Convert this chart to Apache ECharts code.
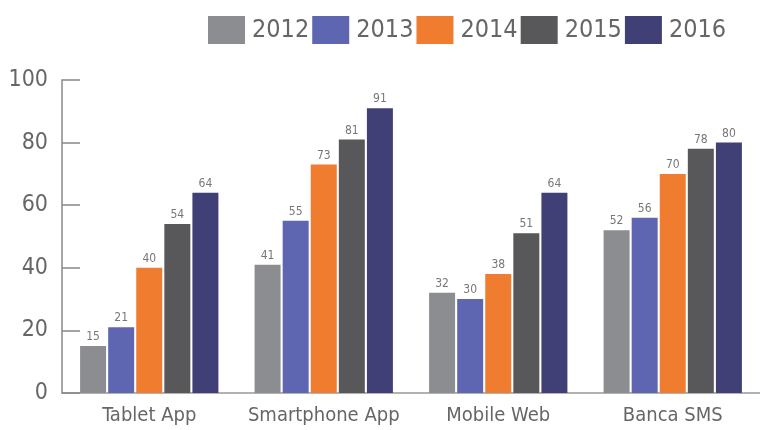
<!DOCTYPE html>
<html>
<head>
<meta charset="utf-8">
<script src="https://cdn.jsdelivr.net/npm/echarts@6/dist/echarts.min.js"></script>
<style>
  html, body { margin: 0; padding: 0; background: #fff; }
  #chart { width: 760px; height: 430px; }
</style>
</head>
<body>
<div id="chart"></div>
<script>
// Channels and yearly values
const categories = ['Tablet App', 'Smartphone App', 'Mobile Web', 'Banca SMS'];
const years = ['2012', '2013', '2014', '2015', '2016'];
const v2012 = [15, 41, 32, 52];
const v2013 = [21, 55, 30, 56];
const v2014 = [40, 73, 38, 70];
const v2015 = [54, 81, 51, 78];
const v2016 = [64, 91, 64, 80];
const yTicks = [0, 20, 40, 60, 80, 100];

const colors = ['#8c8d90', '#5f66b1', '#f07d2f', '#58585b', '#403f76'];
const seriesValues = [v2012, v2013, v2014, v2015, v2016];
const FONT = '"DejaVu Sans Condensed", "DejaVu Sans", sans-serif';

const chart = echarts.init(document.getElementById('chart'), null, { renderer: 'canvas' });

chart.setOption({
  animation: false,
  color: colors,
  textStyle: { fontFamily: FONT },
  legend: {
    top: 11,
    left: 203,
    itemWidth: 37,
    itemHeight: 28,
    itemGap: 3,
    icon: 'rect',
    textStyle: { fontFamily: FONT, fontSize: 25, color: '#666', padding: [2, 0, 0, 2] },
    data: years
  },
  grid: { left: 62, right: 0, top: 80, bottom: 37, containLabel: false },
  xAxis: {
    type: 'category',
    data: categories,
    axisLine: { lineStyle: { color: '#999', width: 1.5 } },
    axisTick: { inside: true, length: 6, lineStyle: { color: '#888' } },
    axisLabel: { interval: 0, fontFamily: FONT, fontSize: 20, color: '#666', margin: 13 }
  },
  yAxis: {
    type: 'value',
    min: yTicks[0],
    max: yTicks[yTicks.length - 1],
    interval: 20,
    axisLine: { show: true, lineStyle: { color: '#888', width: 1.5 } },
    axisTick: { show: true, inside: true, length: 18, lineStyle: { color: '#888', width: 1.5 } },
    splitLine: { show: false },
    axisLabel: { fontFamily: FONT, fontSize: 23, color: '#666', margin: 14 }
  },
  series: years.map((y, i) => ({
    name: y,
    type: 'bar',
    data: seriesValues[i],
    barWidth: 26,
    barGap: '8%',
    itemStyle: { color: colors[i] },
    label: {
      show: true,
      position: 'top',
      distance: 3,
      fontFamily: FONT,
      fontSize: 12,
      color: '#777'
    }
  }))
});
</script>
</body>
</html>
